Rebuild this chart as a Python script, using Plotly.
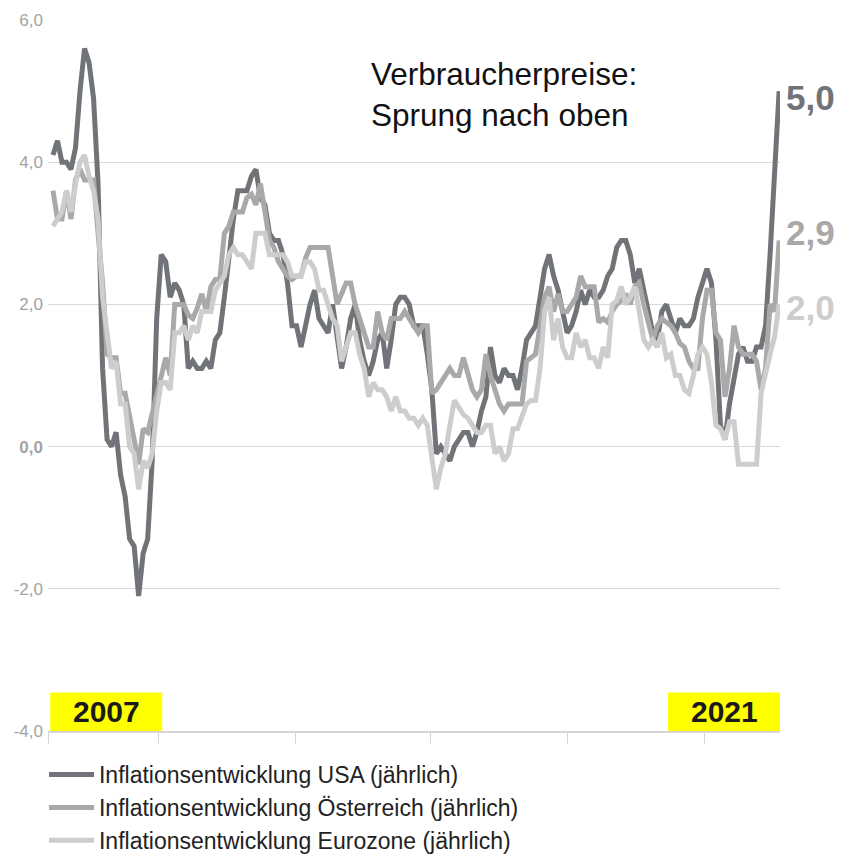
import plotly.graph_objects as go
import pandas as pd

# ---------------- data (monthly, Dec 2007 .. May 2021) ----------------
months = pd.date_range("2007-12-01", "2021-05-01", freq="MS")

usa = [4.1,
       4.3, 4.0, 4.0, 3.9, 4.2, 5.0, 5.6, 5.4, 4.9, 3.7, 1.1, 0.1,
       0.0, 0.2, -0.4, -0.7, -1.3, -1.4, -2.1, -1.5, -1.3, -0.2, 1.8, 2.7,
       2.6, 2.1, 2.3, 2.2, 2.0, 1.1, 1.2, 1.1, 1.1, 1.2, 1.1, 1.5,
       1.6, 2.1, 2.7, 3.2, 3.6, 3.6, 3.6, 3.8, 3.9, 3.5, 3.4, 3.0,
       2.9, 2.9, 2.7, 2.3, 1.7, 1.7, 1.4, 1.7, 2.0, 2.2, 1.8, 1.7,
       1.6, 2.0, 1.5, 1.1, 1.4, 1.8, 2.0, 1.5, 1.2, 1.0, 1.2, 1.5,
       1.6, 1.1, 1.5, 2.0, 2.1, 2.1, 2.0, 1.7, 1.7, 1.7, 1.3, 0.8,
       -0.1, 0.0, -0.1, -0.2, 0.0, 0.1, 0.2, 0.2, 0.0, 0.2, 0.5, 0.7,
       1.4, 1.0, 0.9, 1.1, 1.0, 1.0, 0.8, 1.1, 1.5, 1.6, 1.7, 2.1,
       2.5, 2.7, 2.4, 2.2, 1.9, 1.6, 1.7, 1.9, 2.2, 2.0, 2.2, 2.1,
       2.1, 2.2, 2.4, 2.5, 2.8, 2.9, 2.9, 2.7, 2.3, 2.5, 2.2, 1.9,
       1.6, 1.5, 1.9, 2.0, 1.8, 1.6, 1.8, 1.7, 1.7, 1.8, 2.1, 2.3,
       2.5, 2.3, 1.5, 0.3, 0.1, 0.6, 1.0, 1.3, 1.4, 1.2, 1.2, 1.4,
       1.4, 1.7, 2.7, 3.9, 5.0]

austria = [3.6,
           3.2, 3.2, 3.6, 3.2, 3.75, 3.9, 3.75, 3.75, 3.75, 3.0, 2.3, 1.3,
           1.25, 1.25, 0.75, 0.75, 0.45, 0.1, -0.25, 0.25, 0.2, 0.45, 0.75, 1.0,
           1.25, 1.0, 2.0, 2.0, 2.0, 1.85, 1.8, 1.95, 2.15, 1.9, 2.25, 2.35,
           2.35, 3.0, 3.1, 3.3, 3.3, 3.3, 3.5, 3.55, 3.4, 3.7, 3.3, 2.9,
           2.8, 2.6, 2.5, 2.4, 2.35, 2.4, 2.4, 2.65, 2.8, 2.8, 2.8, 2.8,
           2.8, 2.4, 2.0, 2.15, 2.3, 2.3, 2.0, 1.8, 1.6, 1.4, 1.4, 1.9,
           1.6, 1.5, 1.8, 1.8, 1.8, 1.9, 1.8, 1.7, 1.6, 1.7, 1.7, 0.75,
           0.8, 0.9, 1.0, 1.1, 1.0, 1.0, 1.25, 1.0, 0.8, 0.7, 0.8, 1.3,
           1.0, 0.8, 0.6, 0.5, 0.6, 0.6, 0.6, 0.6, 1.2, 1.25, 1.3, 1.7,
           2.1, 2.25, 1.9, 2.15, 1.9, 1.9, 2.0, 2.1, 2.4, 2.25, 2.25, 2.25,
           1.75, 1.8, 1.75, 1.9, 2.0, 2.05, 2.15, 2.0, 2.25, 2.3, 2.0, 1.75,
           1.5, 1.7, 1.8, 1.75, 1.7, 1.6, 1.45, 1.4, 1.2, 1.1, 1.1, 1.8,
           2.2, 2.2, 1.6, 1.5, 0.7, 1.1, 1.7, 1.4, 1.3, 1.3, 1.3, 1.2,
           0.8, 1.1, 2.0, 1.9, 2.9]

eurozone = [3.1,
            3.2, 3.3, 3.6, 3.3, 3.7, 4.0, 4.1, 3.8, 3.6, 3.2, 2.1, 1.6,
            1.1, 1.2, 0.6, 0.6, 0.0, -0.1, -0.6, -0.2, -0.3, -0.1, 0.5, 0.9,
            0.9, 0.8, 1.6, 1.6, 1.7, 1.5, 1.7, 1.6, 1.9, 1.9, 1.9, 2.2,
            2.3, 2.4, 2.7, 2.8, 2.7, 2.7, 2.6, 2.5, 3.0, 3.0, 3.0, 2.7,
            2.7, 2.7, 2.7, 2.6, 2.4, 2.4, 2.4, 2.6, 2.6, 2.5, 2.2, 2.2,
            2.0, 1.8, 1.7, 1.2, 1.4, 1.6, 1.6, 1.3, 1.1, 0.7, 0.9, 0.8,
            0.8, 0.7, 0.5, 0.7, 0.5, 0.5, 0.4, 0.4, 0.3, 0.4, 0.3, -0.2,
            -0.6, -0.3, -0.1, 0.3, 0.65, 0.55, 0.45, 0.4, 0.3, 0.2, 0.2, 0.3,
            0.3, -0.1, 0.0, -0.2, -0.1, 0.25, 0.25, 0.45, 0.6, 0.65, 0.65, 1.1,
            1.9, 2.1, 1.5, 1.8, 1.4, 1.25, 1.25, 1.6, 1.4, 1.5, 1.25, 1.25,
            1.1, 1.4, 1.25, 2.0, 2.05, 2.25, 2.0, 2.1, 2.25, 1.9, 1.5, 1.4,
            1.5, 1.4, 1.6, 1.25, 1.3, 1.0, 1.0, 0.8, 0.75, 1.0, 1.3, 1.4,
            1.3, 0.9, 0.3, 0.25, 0.1, 0.35, 0.35, -0.25, -0.25, -0.25, -0.25, -0.25,
            0.75, 1.05, 1.3, 1.55, 2.0]

series_names = ["Inflationsentwicklung USA (jährlich)",
                "Inflationsentwicklung Österreich (jährlich)",
                "Inflationsentwicklung Eurozone (jährlich)"]
end_labels = ["5,0", "2,9", "2,0"]
y_tickvals = [-4, -2, 0, 2, 4, 6]
y_ticktext = ["-4,0", "-2,0", "<b>0,0</b>", "2,0", "4,0", "6,0"]
year_labels = ["2007", "2021"]
title_lines = ["Verbraucherpreise:", "Sprung nach oben"]

# ---------------- styling ----------------
colors = ["#707378", "#a9a9a9", "#cdcdcd"]
label_shift = [-6, 8, -3]
FONT = "Liberation Sans, Helvetica, Arial, sans-serif"

x = list(range(len(months)))
series = [usa, austria, eurozone]

fig = go.Figure()
for name, ys, col in zip(series_names, series, colors):
    fig.add_trace(go.Scatter(
        x=x, y=ys, mode="lines", name=name,
        line=dict(color=col, width=5),
        hoverinfo="skip",
    ))

# end-value labels
for ys, lab, col, sh in zip(series, end_labels, colors, label_shift):
    fig.add_annotation(x=x[-1], y=ys[-1], text=f"<b>{lab}</b>", showarrow=False,
                       xanchor="left", yanchor="middle", xshift=5, yshift=sh,
                       font=dict(family=FONT, size=35, color=col))

# title text
fig.add_annotation(xref="paper", yref="paper", x=0.438, y=0.952,
                   text="<br>".join(title_lines), showarrow=False,
                   xanchor="left", yanchor="top", align="left",
                   font=dict(family=FONT, size=31.5, color="#111111"))

# yellow year boxes
boxes = [(0.003, 0.156), (0.847, 1.0)]
for (x0, x1), lab in zip(boxes, year_labels):
    fig.add_shape(type="rect", xref="paper", yref="paper", x0=x0, x1=x1,
                  y0=0.0, y1=0.054, fillcolor="#ffff00", line=dict(width=0),
                  layer="above")
    fig.add_annotation(xref="paper", yref="paper", x=(x0 + x1) / 2, y=0.027,
                       text=f"<b>{lab}</b>", showarrow=False,
                       xanchor="center", yanchor="middle",
                       font=dict(family=FONT, size=30, color="#1a1a1a"))

tick_pos = [-1.1, 23.5, 53.7, 83.8, 114.0, 144.4]

fig.update_layout(
    width=843, height=857,
    margin=dict(l=48, r=63, t=20, b=126, autoexpand=False),
    paper_bgcolor="white", plot_bgcolor="white",
    font=dict(family=FONT, color="#222222"),
    showlegend=True,
    legend=dict(x=-0.0055, y=-0.031, xanchor="left", yanchor="top",
                font=dict(family=FONT, size=23, color="#222222"),
                itemwidth=45, tracegroupgap=0, bgcolor="rgba(0,0,0,0)"),
    xaxis=dict(range=[-1.1, 161.2], showgrid=False, zeroline=False,
               showline=True, linecolor="#d6d6d6", linewidth=2,
               ticks="outside", ticklen=11, tickcolor="#d6d6d6", tickwidth=1,
               tickvals=tick_pos, showticklabels=False, fixedrange=True,
               automargin=False),
    yaxis=dict(range=[-4, 6], tickvals=y_tickvals, ticktext=y_ticktext,
               showgrid=True, gridcolor="#d9d9d9", gridwidth=1,
               zeroline=False, showline=False, ticks="",
               ticklabelstandoff=4, automargin=False,
               tickfont=dict(family=FONT, size=17, color="#a3a3a3"),
               fixedrange=True),
)

fig.write_html("out.html",
               config={"displayModeBar": False},
               post_script="document.body.style.margin='0';"
                           "document.body.style.overflow='hidden';")
